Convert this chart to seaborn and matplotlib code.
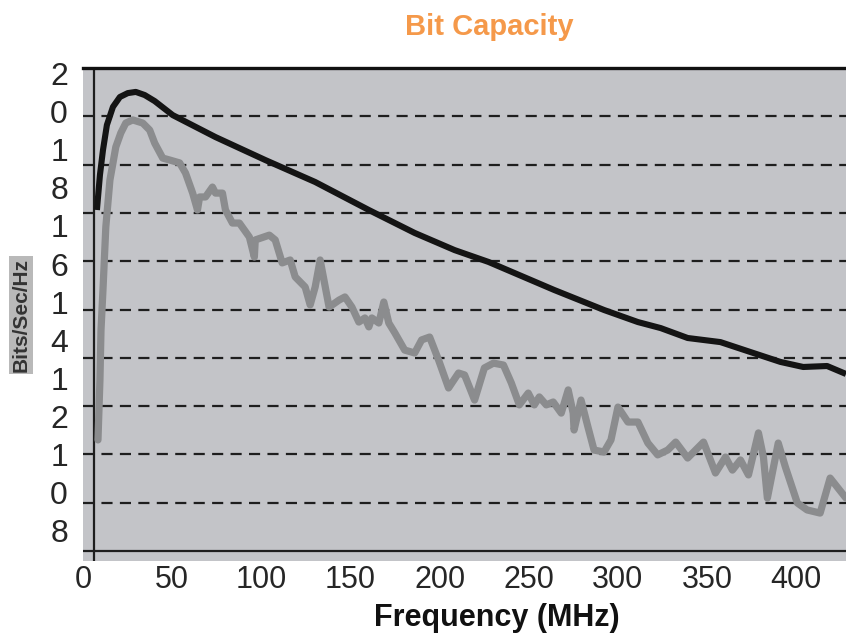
import numpy as np
import pandas as pd
import matplotlib
matplotlib.use("Agg")
import matplotlib.pyplot as plt
import seaborn as sns

# upper curve (black) - frequency in MHz, capacity in bits/sec/Hz
freq_upper = [7.8, 9.5, 11.2, 13.4, 16.8, 20.7, 25.1, 29.6, 34.6, 40.2, 50.3, 74.3,
              102.2, 130.2, 160.3, 186.0, 208.4, 227.4, 245.8, 264.2, 292.2, 311.2,
              324.0, 339.1, 357.5, 375.9, 391.1, 403.9, 417.3, 427.9]
cap_upper = [14.12, 15.57, 16.60, 17.64, 18.39, 18.80, 18.96, 19.01, 18.88, 18.63, 18.05, 17.14,
             16.19, 15.28, 14.12, 13.17, 12.46, 11.97, 11.39, 10.81, 9.98, 9.48,
             9.23, 8.82, 8.65, 8.20, 7.83, 7.62, 7.66, 7.33]

# lower curve (grey, measured)
freq_lower = [8.4, 9.5, 10.1, 11.2, 12.8, 15.1, 18.4, 21.2, 24.0, 27.9, 33.5, 37.4, 40.2,
              44.7, 48.6, 54.2, 57.5, 61.5, 64.2, 65.4, 68.7, 72.6, 74.3, 78.2, 79.9,
              83.8, 87.7, 93.3, 96.1, 96.6, 104.5, 107.8, 111.7, 116.2, 119.0, 124.6,
              127.4, 130.2, 133.0, 138.0, 143.6, 146.9, 150.8, 154.7, 158.1, 160.3,
              162.0, 165.9, 168.7, 171.5, 174.9, 180.4, 186.0, 189.9, 194.4, 199.4,
              205.0, 210.6, 214.0, 219.6, 225.1, 230.2, 235.8, 240.2, 244.7, 249.7,
              253.1, 255.9, 259.8, 263.7, 268.2, 272.1, 274.9, 275.4, 279.3, 283.2,
              286.6, 292.2, 296.1, 300.0, 305.6, 311.2, 316.8, 322.3, 327.9, 332.4,
              339.1, 348.0, 354.7, 360.3, 364.2, 368.7, 373.2, 378.8, 381.6, 383.8,
              389.9, 393.9, 400.6, 406.1, 413.4, 419.0, 427.9]
cap_lower = [4.60, 7.08, 9.15, 10.81, 13.42, 15.36, 16.73, 17.31, 17.72, 17.85, 17.72, 17.43, 16.89,
             16.27, 16.19, 16.07, 15.65, 14.82, 14.12, 14.66, 14.66, 15.07, 14.82, 14.82, 14.12,
             13.58, 13.58, 13.00, 12.17, 12.88, 13.08, 12.88, 11.93, 12.05, 11.35, 10.93,
             10.19, 10.93, 12.05, 10.10, 10.39, 10.52, 10.10, 9.48, 9.65, 9.28,
             9.65, 9.44, 10.31, 9.44, 9.03, 8.32, 8.20, 8.74, 8.86, 7.91,
             6.75, 7.37, 7.29, 6.25, 7.58, 7.78, 7.70, 6.96, 6.05, 6.54,
             6.05, 6.38, 6.05, 6.17, 5.71, 6.67, 5.71, 5.01, 6.25, 5.13,
             4.18, 4.10, 4.60, 5.96, 5.34, 5.34, 4.47, 3.98, 4.18, 4.51,
             3.85, 4.51, 3.23, 3.89, 3.35, 3.77, 3.15, 4.89, 3.89, 2.19,
             4.47, 3.48, 1.99, 1.70, 1.57, 3.02, 2.19]

x_ticks = [0, 50, 100, 150, 200, 250, 300, 350, 400]
y_tick_labels = ["20", "18", "16", "14", "12", "10", "8"]
grid_levels = [2, 4, 6, 8, 10, 12, 14, 16, 18]

df_up = pd.DataFrame({"freq": freq_upper, "cap": cap_upper})
df_lo = pd.DataFrame({"freq": freq_lower, "cap": cap_lower})

sns.set_style("white")
plt.rcParams["font.family"] = ["Liberation Sans", "DejaVu Sans"]

W, H = 846, 641
fig = plt.figure(figsize=(W / 100, H / 100), dpi=100)
ax = fig.add_axes([83 / W, 1 - 561 / H, (846 - 83) / W, (561 - 68) / H])
ax.set_facecolor("#c3c4c8")

ax.set_xlim(1.7, 427.9)
ax.set_ylim(-0.414, 20)

# dashed grid
for g in grid_levels:
    ax.axhline(g, color="#1e1e1e", lw=1.6, ls=(0, (5, 3.3)), zorder=1)

sns.lineplot(data=df_lo, x="freq", y="cap", ax=ax, color="#8b8c8e", lw=5.2,
             sort=False, zorder=3, solid_joinstyle="round", solid_capstyle="round")
sns.lineplot(data=df_up, x="freq", y="cap", ax=ax, color="#141414", lw=4.4,
             sort=False, zorder=4, solid_joinstyle="round", solid_capstyle="butt")

# axis lines
ax.axvline(6, color="#1e1e1e", lw=1.6, zorder=2)
ax.axhline(0, color="#1e1e1e", lw=1.6, zorder=2)

for s in ["left", "right", "bottom"]:
    ax.spines[s].set_visible(False)
ax.spines["top"].set_color("#111111")
ax.spines["top"].set_linewidth(2.4)

ax.set_xticks(x_ticks)
ax.set_xticklabels([str(t) for t in x_ticks], fontsize=22)
ax.tick_params(axis="x", length=0, pad=3)
ax.set_yticks([])
ax.set_xlabel("")
ax.set_ylabel("")

# y tick labels in the source are drawn as stacked single digits
digits = [d for lab in y_tick_labels for d in lab]
for i, d in enumerate(digits):
    fig.text(59 / W, 1 - (77 + i * 38.1) / H, d, fontsize=23, ha="center", va="center")

fig.text(21 / W, 1 - 315 / H, "Bits/Sec/Hz", rotation=90, fontsize=15, fontweight="bold",
         color="#333333", ha="center", va="center",
         bbox=dict(facecolor="#b9b9b9", edgecolor="none", pad=1.5))

fig.text(489 / W, 1 - 27 / H, "Bit Capacity", fontsize=21, fontweight="bold",
         color="#f5994a", ha="center", va="center")
fig.text(497 / W, 1 - 618 / H, "Frequency (MHz)", fontsize=22, fontweight="bold",
         color="#111111", ha="center", va="center")

fig.savefig("out.png", dpi=100)
